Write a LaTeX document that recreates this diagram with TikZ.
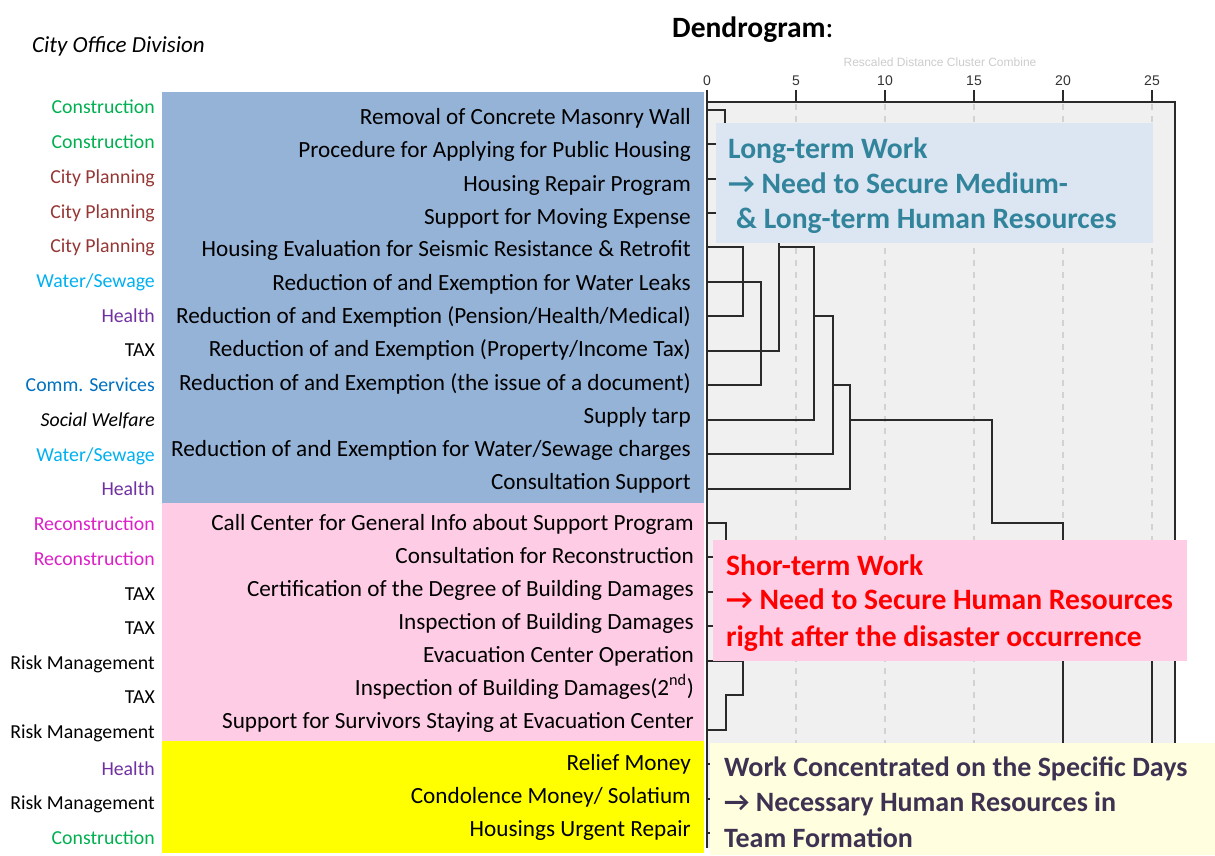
\documentclass[tikz,border=0pt]{standalone}
\usepackage{fontspec}
\setmainfont{Carlito}
\newfontfamily\axisfont{Liberation Sans}
\definecolor{blueband}{HTML}{95B3D7}
\definecolor{pinkband}{HTML}{FFCCE6}
\definecolor{yelband}{HTML}{FFFF00}
\definecolor{ltbg}{HTML}{DCE6F2}
\definecolor{ltfg}{HTML}{31849B}
\definecolor{stfg}{HTML}{FF0000}
\definecolor{wcbg}{HTML}{FFFFDF}
\definecolor{wcfg}{HTML}{3F3151}
\definecolor{framebg}{HTML}{F0F0F0}
\definecolor{gridc}{HTML}{D2D2D2}
\definecolor{dendro}{HTML}{2A2A2A}
\definecolor{cons}{HTML}{00B050}
\definecolor{plan}{HTML}{953735}
\definecolor{water}{HTML}{00B0F0}
\definecolor{health}{HTML}{7030A0}
\definecolor{comm}{HTML}{0070C0}
\definecolor{recon}{HTML}{DD1FC8}
\begin{document}
\begin{tikzpicture}[x=1pt,y=-1pt,
  item/.style={anchor=base east,inner sep=0pt,font=\fontsize{23.2}{27}\selectfont},
  div/.style={anchor=base east,inner sep=0pt,font=\fontsize{19.8}{23}\selectfont},
  note/.style={anchor=base west,inner sep=0pt,font=\fontsize{29.6}{34}\selectfont\bfseries},
  wnote/.style={anchor=base west,inner sep=0pt,font=\fontsize{28}{34}\selectfont\bfseries},
  tick/.style={anchor=base,inner sep=0pt,font=\axisfont\fontsize{14}{16}\selectfont,text=black!80},
  dline/.style={draw=dendro,line width=1.4pt},
  gline/.style={draw=gridc,line width=1.2pt,dash pattern=on 6pt off 6pt},
  fline/.style={draw=dendro,line width=1.5pt}]
\useasboundingbox (0,0) rectangle (1215,855);

% titles
\node[anchor=base west,inner sep=0pt,font=\fontsize{23}{27}\selectfont\itshape] (cod) at (32,52) {City Office Division};
\node[anchor=base west,inner sep=0pt,font=\fontsize{29.5}{34}\selectfont] (title) at (672,37) {\textbf{Dendrogram}:};
\node[anchor=base,inner sep=0pt,font=\axisfont\fontsize{12}{14}\selectfont,text=black!20] (rdc) at (940,66) {Rescaled Distance Cluster Combine};

% frame of the dendrogram
\fill[framebg] (707,102) rectangle (1175,848);
\foreach \xx in {796,885,974,1063,1152} \draw[gline] (\xx,104) -- (\xx,848);
% axis ticks and labels
\foreach \xx/\lab in {707/0,796/5,885/10,974/15,1063/20,1152/25}{
  \draw[fline,line width=1.2pt] (\xx,90) -- (\xx,102);
  \node[tick] at (\xx,85) {\lab};
}

% dendrogram lines
\draw[dline] (707,110) -- (725,110) -- (725,144) -- (707,144);
\draw[dline] (707,179) -- (725,179) -- (725,213) -- (707,213);
\draw[dline] (725,127) -- (743,127) -- (743,196) -- (725,196);
\draw[dline] (743,161) -- (779,161);
\draw[dline] (707,247) -- (743,247) -- (743,316) -- (707,316);
\draw[dline] (707,282) -- (761,282) -- (761,385) -- (707,385);
\draw[dline] (707,351) -- (779,351) -- (779,161);
\draw[dline] (779,247) -- (814,247) -- (814,420) -- (707,420);
\draw[dline] (814,316) -- (833,316) -- (833,454) -- (707,454);
\draw[dline] (833,385) -- (850,385) -- (850,489) -- (707,489);
\draw[dline] (850,420) -- (992,420) -- (992,523) -- (1063,523) -- (1063,848);
\draw[dline] (707,523) -- (726,523) -- (726,557) -- (707,557);
\draw[dline] (707,592) -- (726,592) -- (726,626) -- (707,626);
\draw[dline] (726,560) -- (760,560) -- (760,609) -- (726,609);
\draw[dline] (707,661) -- (743,661) -- (743,695) -- (726,695) -- (726,730) -- (707,730);
\draw[dline] (760,585) -- (1152,585) -- (1152,848);
\foreach \yy in {764,799,833} \draw[dline] (707,\yy) -- (716,\yy);
% frame border
\draw[fline] (707,848) -- (707,102) -- (1175,102) -- (1175,848);

% coloured bands
\fill[blueband] (162,92) rectangle (704,503);
\fill[pinkband] (162,503) rectangle (704,741);
\fill[yelband] (162,741) rectangle (704,853);

% items
\node[item] (i1) at (691,124) {Removal of Concrete Masonry Wall};
\node[item] (i2) at (691,157) {Procedure for Applying for Public Housing};
\node[item] (i3) at (691,191) {Housing Repair Program};
\node[item] (i4) at (691,224) {Support for Moving Expense};
\node[item] (i5) at (691,256) {Housing Evaluation for Seismic Resistance \& Retrofit};
\node[item] (i6) at (691,290) {Reduction of and Exemption for Water Leaks};
\node[item] (i7) at (691,323) {Reduction of and Exemption (Pension/Health/Medical)};
\node[item] (i8) at (691,356) {Reduction of and Exemption (Property/Income Tax)};
\node[item] (i9) at (691,390) {Reduction of and Exemption (the issue of a document)};
\node[item] (i10) at (691,423) {Supply tarp};
\node[item] (i11) at (691,456) {Reduction of and Exemption for Water/Sewage charges};
\node[item] (i12) at (691,489) {Consultation Support};
\node[item] (i13) at (694,530) {Call Center for General Info about Support Program};
\node[item] (i14) at (694,563) {Consultation for Reconstruction};
\node[item] (i15) at (694,596) {Certification of the Degree of Building Damages};
\node[item] (i16) at (694,629) {Inspection of Building Damages};
\node[item] (i17) at (694,662) {Evacuation Center Operation};
\node[item] (i18) at (694,695) {Inspection of Building Damages(2\textsuperscript{nd})};
\node[item] (i19) at (694,728) {Support for Survivors Staying at Evacuation Center};
\node[item] (i20) at (691,770) {Relief Money};
\node[item] (i21) at (691,803) {Condolence Money/ Solatium};
\node[item] (i22) at (691,836) {Housings Urgent Repair};

% divisions
\node[div,text=cons] (d1) at (155,113) {Construction};
\node[div,text=cons] (d2) at (155,148) {Construction};
\node[div,text=plan] (d3) at (155,183) {City Planning};
\node[div,text=plan] (d4) at (155,218) {City Planning};
\node[div,text=plan] (d5) at (155,252) {City Planning};
\node[div,text=water] (d6) at (155,287) {Water/Sewage};
\node[div,text=health] (d7) at (155,322) {Health};
\node[div,text=black] (d8) at (155,356) {TAX};
\node[div,text=comm] (d9) at (155,391) {Comm. Services};
\node[div,text=black,font=\fontsize{19.8}{23}\selectfont\itshape] (d10) at (155,426) {Social Welfare};
\node[div,text=water] (d11) at (155,461) {Water/Sewage};
\node[div,text=health] (d12) at (155,495) {Health};
\node[div,text=recon] (d13) at (155,530) {Reconstruction};
\node[div,text=recon] (d14) at (155,565) {Reconstruction};
\node[div,text=black] (d15) at (155,600) {TAX};
\node[div,text=black] (d16) at (155,634) {TAX};
\node[div,text=black] (d17) at (155,669) {Risk Management};
\node[div,text=black] (d18) at (155,703) {TAX};
\node[div,text=black] (d19) at (155,738) {Risk Management};
\node[div,text=health] (d20) at (155,775) {Health};
\node[div,text=black] (d21) at (155,809) {Risk Management};
\node[div,text=cons] (d22) at (155,844) {Construction};

% annotation boxes
\fill[ltbg] (716,123) rectangle (1153,243);
\node[note,text=ltfg] (lt1) at (728,158) {Long-term Work};
\node[note,text=ltfg] (lt2) at (728,193) {→ Need to Secure Medium-};
\node[note,text=ltfg] (lt3) at (736,228) {\& Long-term Human Resources};

\fill[pinkband] (713,540) rectangle (1187,661);
\node[note,text=stfg] (st1) at (726,575) {Shor-term Work};
\node[note,text=stfg] (st2) at (726,609) {→ Need to Secure Human Resources};
\node[note,text=stfg] (st3) at (726,646) {right after the disaster occurrence};

\fill[wcbg] (710,743) rectangle (1215,855);
\node[wnote,text=wcfg] (wc1) at (724,776) {Work Concentrated on the Specific Days};
\node[wnote,text=wcfg] (wc2) at (724,811) {→ Necessary Human Resources in};
\node[wnote,text=wcfg] (wc3) at (724,847) {Team Formation};
\end{tikzpicture}
\end{document}
